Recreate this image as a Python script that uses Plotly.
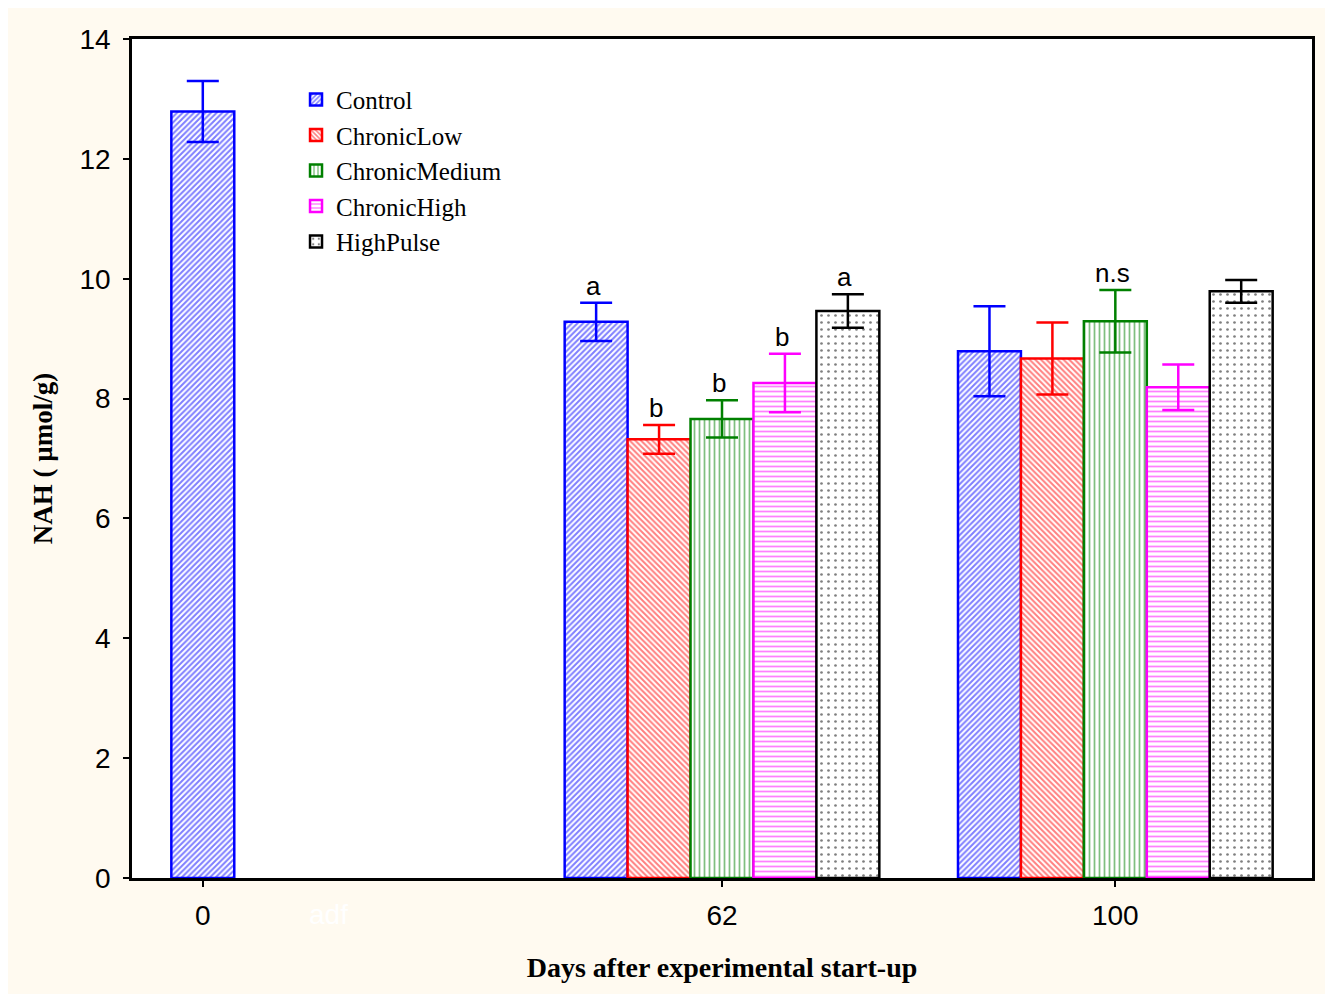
import plotly.graph_objects as go

# ---------------- data ----------------
days = ["0", "62", "100"]
series_names = ["Control", "ChronicLow", "ChronicMedium", "ChronicHigh", "HighPulse"]
control = [12.79, 9.28, 8.79]
control_err = [0.51, 0.32, 0.75]
chronic_low = [None, 7.32, 8.67]
chronic_low_err = [None, 0.24, 0.60]
chronic_medium = [None, 7.66, 9.29]
chronic_medium_err = [None, 0.31, 0.52]
chronic_high = [None, 8.26, 8.19]
chronic_high_err = [None, 0.49, 0.38]
high_pulse = [None, 9.46, 9.79]
high_pulse_err = [None, 0.28, 0.19]
letters = {
    "62": ["a", "b", "b", "b", "a"],
    "100": [None, None, "n.s", None, None],
}
y_ticks = [0, 2, 4, 6, 8, 10, 12, 14]
hidden_label = "adf"

values = [control, chronic_low, chronic_medium, chronic_high, high_pulse]
errors = [control_err, chronic_low_err, chronic_medium_err, chronic_high_err, high_pulse_err]

# ---------------- styles ----------------
colors = ["#0000FF", "#FF0000", "#008000", "#FF00FF", "#000000"]
shapes_pat = ["/", "\\", "|", "-", "."]
pat_size = [4, 4, 5, 5, 7]
pat_sol = [0.5, 0.5, 0.35, 0.35, 0.12]
serif = "Liberation Serif"
sans = "Liberation Sans"
cream = "#FFFAF0"

n = len(series_names)
bargap = 0.2
slot = (1 - bargap) / n
offsets = [-(1 - bargap) / 2 + slot * (i + 0.5) for i in range(n)]
xpos = list(range(len(days)))

fig = go.Figure()
for i, name in enumerate(series_names):
    fig.add_trace(go.Bar(
        name=name,
        x=xpos,
        y=values[i],
        marker=dict(
            color="white",
            line=dict(color=colors[i], width=2.5),
            pattern=dict(shape=shapes_pat[i], fgcolor=colors[i], bgcolor="white",
                         size=pat_size[i], solidity=pat_sol[i]),
        ),
        error_y=dict(type="data", array=errors[i], visible=True,
                     color=colors[i], thickness=2.5, width=16),
    ))

annotations = []
for gi, d in enumerate(days):
    if d in letters:
        for si, lab in enumerate(letters[d]):
            if lab is None:
                continue
            annotations.append(dict(
                x=gi + offsets[si], y=values[si][gi] + errors[si][gi],
                xref="x", yref="y", text=lab, showarrow=False,
                yanchor="bottom", yshift=0, xshift=-3,
                font=dict(family=sans, size=26, color="black"),
            ))
# hidden (white) label at the first category
annotations.append(dict(x=0, y=0, xref="x", yref="y", text=hidden_label, showarrow=False,
                        yanchor="middle", yshift=-36,
                        font=dict(family=sans, size=28, color="white")))

# tick positions: first group only has the Control bar
tickvals = [0 + offsets[0], 1, 2]

fig.update_layout(
    width=1320, height=986,
    margin=dict(l=124, r=16, t=31, b=116),
    paper_bgcolor=cream, plot_bgcolor="white",
    barmode="group", bargap=bargap, bargroupgap=0,
    annotations=annotations,
    showlegend=True,
    legend=dict(x=0.139, y=0.955, xanchor="left", yanchor="top",
                font=dict(family=serif, size=25, color="black"),
                bgcolor="rgba(0,0,0,0)", tracegroupgap=0),
    xaxis=dict(range=[-0.5, 2.5], tickmode="array", tickvals=tickvals, ticktext=days,
               showline=True, linecolor="black", linewidth=2.5, mirror=True,
               ticks="outside", ticklen=6, tickwidth=2, tickcolor="black",
               showgrid=False, zeroline=False,
               tickfont=dict(family=sans, size=28, color="black"),
               ticklabelstandoff=5,
               title=dict(text="<b>Days after experimental start-up</b>",
                          font=dict(family=serif, size=28, color="black"), standoff=28)),
    yaxis=dict(range=[0, 14], tickmode="array", tickvals=y_ticks,
               showline=True, linecolor="black", linewidth=2.5, mirror=True,
               ticks="outside", ticklen=6, tickwidth=2, tickcolor="black",
               showgrid=False, zeroline=False,
               tickfont=dict(family=sans, size=28, color="black"),
               ticklabelstandoff=7,
               title=dict(text="<b>NAH ( µmol/g)</b>",
                          font=dict(family=serif, size=27, color="black"), standoff=20)),
)

fig.write_html("out.html")
